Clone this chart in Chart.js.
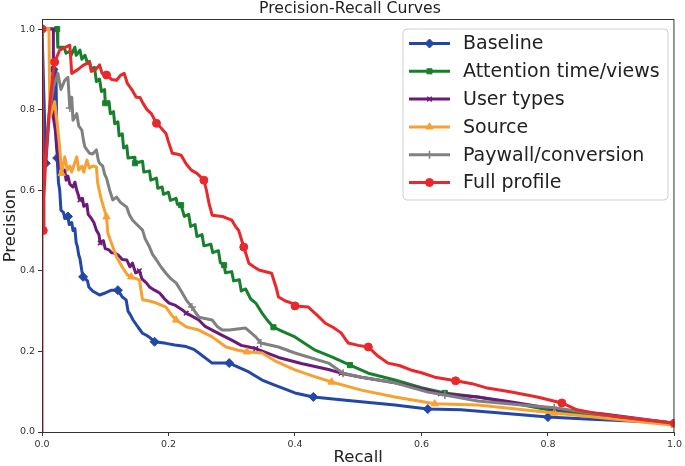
<!DOCTYPE html>
<html>
<head>
<meta charset="utf-8">
<script src="https://cdn.jsdelivr.net/npm/chart.js@4/dist/chart.umd.min.js"></script>
<style>
    html, body { margin: 0; padding: 0; background: #fff; }
    #wrap { width: 685px; height: 466px; position: relative; }
</style>
</head>
<body>
<div id="wrap"><canvas id="prChart"></canvas></div>
<script>
// Tick labels
const xTicks = [0, 0.2, 0.4, 0.6, 0.8, 1.0];
const yTicks = [0, 0.2, 0.4, 0.6, 0.8, 1.0];

// Baseline
const baselineRecall = [0, 0.006, 0.012, 0.018, 0.022, 0.024, 0.026, 0.028, 0.03, 0.034, 0.036, 0.041, 0.043, 0.047, 0.049, 0.052, 0.054, 0.056, 0.058, 0.06, 0.063, 0.065, 0.072, 0.074, 0.08, 0.091, 0.1, 0.11, 0.12, 0.127, 0.133, 0.136, 0.14, 0.144, 0.152, 0.159, 0.165, 0.17, 0.178, 0.196, 0.21, 0.228, 0.24, 0.248, 0.269, 0.296, 0.327, 0.348, 0.37, 0.40, 0.429, 0.48, 0.558, 0.61, 0.662, 0.72, 0.80, 0.86, 0.93, 1.0];
const baselinePrecision = [1.0, 0.667, 0.8, 0.9, 0.9, 0.68, 0.62, 0.6, 0.55, 0.545, 0.53, 0.535, 0.515, 0.52, 0.5, 0.505, 0.47, 0.46, 0.44, 0.43, 0.4, 0.385, 0.375, 0.36, 0.35, 0.34, 0.345, 0.352, 0.352, 0.335, 0.328, 0.3, 0.29, 0.278, 0.26, 0.245, 0.24, 0.235, 0.224, 0.22, 0.216, 0.212, 0.205, 0.196, 0.171, 0.171, 0.149, 0.129, 0.115, 0.097, 0.087, 0.079, 0.067, 0.057, 0.055, 0.048, 0.037, 0.032, 0.027, 0.022];
const baselineMarks = [0, 0.006, 0.018, 0.024, 0.041, 0.065, 0.12, 0.178, 0.296, 0.429, 0.61, 0.80];

// Attention time/views
const attentionRecall = [0.012, 0.024, 0.025, 0.035, 0.038, 0.044, 0.046, 0.052, 0.054, 0.06, 0.063, 0.068, 0.072, 0.075, 0.078, 0.083, 0.086, 0.091, 0.094, 0.099, 0.1, 0.106, 0.108, 0.113, 0.115, 0.12, 0.122, 0.127, 0.129, 0.134, 0.136, 0.146, 0.147, 0.159, 0.161, 0.17, 0.172, 0.181, 0.183, 0.19, 0.192, 0.2, 0.203, 0.212, 0.214, 0.22, 0.225, 0.232, 0.235, 0.242, 0.245, 0.253, 0.256, 0.267, 0.27, 0.279, 0.282, 0.288, 0.29, 0.3, 0.303, 0.312, 0.315, 0.322, 0.33, 0.338, 0.348, 0.355, 0.366, 0.38, 0.40, 0.415, 0.432, 0.46, 0.487, 0.516, 0.558, 0.60, 0.637, 0.689, 0.75, 0.80, 0.87, 0.94, 1.0];
const attentionPrecision = [1.0, 1.0, 0.955, 0.955, 0.94, 0.945, 0.935, 0.955, 0.935, 0.948, 0.925, 0.935, 0.915, 0.92, 0.9, 0.905, 0.87, 0.876, 0.845, 0.85, 0.816, 0.82, 0.79, 0.795, 0.765, 0.77, 0.735, 0.74, 0.705, 0.71, 0.68, 0.682, 0.667, 0.672, 0.645, 0.648, 0.625, 0.63, 0.605, 0.608, 0.59, 0.595, 0.575, 0.58, 0.565, 0.563, 0.535, 0.54, 0.51, 0.515, 0.485, 0.49, 0.462, 0.466, 0.445, 0.45, 0.42, 0.414, 0.395, 0.398, 0.375, 0.378, 0.35, 0.355, 0.33, 0.32, 0.295, 0.28, 0.26, 0.25, 0.236, 0.22, 0.203, 0.185, 0.166, 0.146, 0.129, 0.11, 0.097, 0.087, 0.07, 0.055, 0.042, 0.032, 0.022];
const attentionMarks = [0.024, 0.1, 0.147, 0.22, 0.288, 0.366, 0.487, 0.637, 0.80];

// User types
const userRecall = [0, 0.018, 0.018, 0.021, 0.023, 0.028, 0.033, 0.036, 0.038, 0.041, 0.044, 0.049, 0.052, 0.055, 0.06, 0.064, 0.066, 0.071, 0.073, 0.078, 0.082, 0.086, 0.09, 0.092, 0.097, 0.1, 0.106, 0.11, 0.115, 0.12, 0.127, 0.134, 0.139, 0.143, 0.148, 0.154, 0.158, 0.165, 0.17, 0.178, 0.186, 0.194, 0.201, 0.21, 0.222, 0.228, 0.24, 0.248, 0.258, 0.269, 0.285, 0.30, 0.315, 0.327, 0.338, 0.374, 0.41, 0.453, 0.473, 0.505, 0.558, 0.61, 0.63, 0.689, 0.74, 0.81, 0.888, 1.0];
const userPrecision = [1.0, 1.0, 0.78, 0.75, 0.707, 0.658, 0.642, 0.65, 0.625, 0.635, 0.615, 0.608, 0.62, 0.6, 0.576, 0.58, 0.56, 0.565, 0.54, 0.53, 0.52, 0.501, 0.49, 0.469, 0.475, 0.455, 0.452, 0.445, 0.444, 0.44, 0.428, 0.427, 0.41, 0.419, 0.395, 0.4, 0.38, 0.37, 0.36, 0.352, 0.345, 0.33, 0.32, 0.315, 0.303, 0.295, 0.285, 0.278, 0.262, 0.253, 0.24, 0.228, 0.215, 0.211, 0.207, 0.185, 0.17, 0.155, 0.146, 0.136, 0.122, 0.104, 0.095, 0.087, 0.075, 0.057, 0.045, 0.022];
const userMarks = [0, 0.06, 0.092, 0.154, 0.228, 0.338, 0.473, 0.63, 0.81];

// Source
const sourceRecall = [0, 0.011, 0.0125, 0.02, 0.023, 0.028, 0.031, 0.036, 0.04, 0.044, 0.047, 0.05, 0.055, 0.058, 0.063, 0.066, 0.071, 0.075, 0.08, 0.086, 0.088, 0.094, 0.102, 0.104, 0.112, 0.118, 0.123, 0.127, 0.135, 0.141, 0.15, 0.154, 0.159, 0.17, 0.181, 0.196, 0.205, 0.212, 0.228, 0.248, 0.269, 0.291, 0.31, 0.324, 0.348, 0.37, 0.40, 0.43, 0.458, 0.505, 0.558, 0.621, 0.689, 0.731, 0.81, 0.9, 1.0];
const sourcePrecision = [1.0, 1.0, 0.78, 0.82, 0.78, 0.707, 0.642, 0.683, 0.65, 0.66, 0.645, 0.66, 0.683, 0.65, 0.66, 0.645, 0.675, 0.655, 0.66, 0.658, 0.618, 0.576, 0.534, 0.494, 0.459, 0.434, 0.42, 0.409, 0.39, 0.385, 0.38, 0.377, 0.328, 0.325, 0.32, 0.31, 0.29, 0.278, 0.261, 0.253, 0.236, 0.211, 0.203, 0.199, 0.196, 0.175, 0.154, 0.138, 0.124, 0.104, 0.087, 0.07, 0.067, 0.06, 0.047, 0.033, 0.017];
const sourceMarks = [0, 0.031, 0.102, 0.141, 0.212, 0.324, 0.458, 0.621, 0.81, 1.0];

// Paywall/conversion
const paywallRecall = [0.0125, 0.018, 0.025, 0.03, 0.036, 0.041, 0.044, 0.047, 0.049, 0.055, 0.058, 0.063, 0.066, 0.068, 0.075, 0.08, 0.086, 0.089, 0.091, 0.096, 0.099, 0.102, 0.107, 0.112, 0.118, 0.124, 0.134, 0.138, 0.143, 0.15, 0.159, 0.163, 0.17, 0.175, 0.181, 0.188, 0.196, 0.204, 0.212, 0.22, 0.228, 0.237, 0.248, 0.269, 0.277, 0.285, 0.296, 0.322, 0.338, 0.346, 0.374, 0.40, 0.453, 0.476, 0.505, 0.558, 0.61, 0.637, 0.689, 0.75, 0.81, 0.888, 1.0];
const paywallPrecision = [0.8, 0.856, 0.89, 0.85, 0.873, 0.88, 0.804, 0.831, 0.774, 0.79, 0.76, 0.749, 0.72, 0.707, 0.692, 0.69, 0.70, 0.675, 0.667, 0.66, 0.64, 0.63, 0.6, 0.576, 0.583, 0.57, 0.558, 0.54, 0.526, 0.515, 0.501, 0.48, 0.459, 0.44, 0.427, 0.41, 0.394, 0.38, 0.37, 0.35, 0.328, 0.31, 0.285, 0.278, 0.262, 0.253, 0.253, 0.258, 0.236, 0.221, 0.211, 0.196, 0.171, 0.146, 0.136, 0.122, 0.099, 0.092, 0.077, 0.068, 0.06, 0.042, 0.022];
const paywallMarks = [0.044, 0.237, 0.346, 0.476, 0.637, 0.81];

// Full profile
const fullRecall = [0, 0, 0.002, 0.003, 0.006, 0.01, 0.014, 0.02, 0.028, 0.044, 0.047, 0.057, 0.065, 0.075, 0.078, 0.085, 0.091, 0.095, 0.102, 0.11, 0.118, 0.124, 0.13, 0.135, 0.142, 0.149, 0.155, 0.16, 0.166, 0.173, 0.181, 0.188, 0.196, 0.2, 0.206, 0.213, 0.22, 0.228, 0.236, 0.245, 0.256, 0.26, 0.264, 0.269, 0.285, 0.30, 0.306, 0.311, 0.319, 0.323, 0.327, 0.335, 0.343, 0.363, 0.37, 0.374, 0.385, 0.395, 0.40, 0.421, 0.435, 0.448, 0.46, 0.473, 0.48, 0.484, 0.5, 0.516, 0.53, 0.547, 0.565, 0.583, 0.6, 0.621, 0.654, 0.68, 0.704, 0.74, 0.783, 0.822, 0.846, 0.88, 0.914, 1.0];
const fullPrecision = [0, 1.0, 0.5, 0.58, 0.68, 0.77, 0.84, 0.918, 0.948, 0.96, 0.89, 0.9, 0.91, 0.918, 0.895, 0.9, 0.911, 0.89, 0.886, 0.875, 0.873, 0.885, 0.89, 0.865, 0.85, 0.831, 0.83, 0.815, 0.8, 0.79, 0.766, 0.755, 0.741, 0.72, 0.692, 0.69, 0.687, 0.665, 0.65, 0.642, 0.625, 0.6, 0.568, 0.538, 0.535, 0.526, 0.51, 0.5, 0.459, 0.44, 0.419, 0.41, 0.402, 0.394, 0.36, 0.335, 0.325, 0.32, 0.313, 0.31, 0.29, 0.27, 0.26, 0.246, 0.23, 0.221, 0.215, 0.211, 0.19, 0.171, 0.165, 0.154, 0.147, 0.136, 0.127, 0.12, 0.109, 0.1, 0.087, 0.072, 0.055, 0.045, 0.037, 0.022];
const fullMarks = [0.002, 0.02, 0.102, 0.181, 0.256, 0.319, 0.40, 0.516, 0.654, 0.822, 1.0];

const seriesNames = ['Baseline', 'Attention time/views', 'User types', 'Source', 'Paywall/conversion', 'Full profile'];
const seriesColors = ['#2347a8', '#18802c', '#6b1a7b', '#f6a132', '#808080', '#e8282b'];
const seriesMarkers = ['rectRot', 'rect', 'crossRot', 'triangle', 'cross', 'circle'];
const markerSizes = [4.5, 3.6, 3.2, 4.2, 4, 4];

const FONT = 'DejaVu Sans, Liberation Sans, sans-serif';

// Build a dataset; markers sit on the first point at each listed recall value
function makeDataset(i, recall, precision, marks) {
    const markIdx = new Set(marks.map(m => recall.indexOf(m)));
    if (i === 5) markIdx.add(1); // full profile marker at (0, 1)
    const open = seriesMarkers[i] === 'cross' || seriesMarkers[i] === 'crossRot';
    return {
        label: seriesNames[i],
        data: recall.map((r, k) => ({ x: r, y: precision[k] })),
        borderColor: seriesColors[i],
        backgroundColor: seriesColors[i],
        borderWidth: 3,
        borderJoinStyle: 'round',
        pointStyle: seriesMarkers[i],
        pointRadius: ctx => markIdx.has(ctx.dataIndex) ? markerSizes[i] : 0,
        pointHoverRadius: 0,
        pointBackgroundColor: seriesColors[i],
        pointBorderColor: seriesColors[i],
        pointBorderWidth: open ? 1.5 : 1,
        showLine: true,
        fill: false,
        tension: 0,
        order: 5 - i
    };
}

// Title, frame and legend box drawn on the canvas
const decorPlugin = {
    id: 'decor',
    afterDraw(chart) {
        const { ctx, chartArea } = chart;
        ctx.save();
        // frame
        ctx.strokeStyle = '#333';
        ctx.lineWidth = 1;
        ctx.strokeRect(chartArea.left + 0.5, chartArea.top + 0.5, chartArea.right - chartArea.left - 1, chartArea.bottom - chartArea.top);

        // title
        ctx.fillStyle = '#222';
        ctx.font = '15.7px ' + FONT;
        ctx.textAlign = 'center';
        ctx.textBaseline = 'middle';
        ctx.fillText('Precision-Recall Curves', 350, 9);

        // legend
        const bx = 403, by = 29, bw = 265, bh = 171, r = 4;
        ctx.beginPath();
        ctx.moveTo(bx + r, by);
        ctx.arcTo(bx + bw, by, bx + bw, by + bh, r);
        ctx.arcTo(bx + bw, by + bh, bx, by + bh, r);
        ctx.arcTo(bx, by + bh, bx, by, r);
        ctx.arcTo(bx, by, bx + bw, by, r);
        ctx.closePath();
        ctx.fillStyle = 'rgba(255,255,255,0.85)';
        ctx.fill();
        ctx.strokeStyle = '#d0d0d0';
        ctx.stroke();

        ctx.font = '19px ' + FONT;
        ctx.textAlign = 'left';
        seriesNames.forEach((name, i) => {
            const y = 43.5 + i * 27.8;
            ctx.strokeStyle = seriesColors[i];
            ctx.lineWidth = 3;
            ctx.beginPath();
            ctx.moveTo(409, y);
            ctx.lineTo(450, y);
            ctx.stroke();
            ctx.fillStyle = seriesColors[i];
            ctx.lineWidth = seriesMarkers[i].startsWith('cross') ? 1.5 : 1;
            Chart.helpers.drawPoint(ctx, { pointStyle: seriesMarkers[i], radius: markerSizes[i], borderWidth: ctx.lineWidth }, 429.5, y);
            ctx.fillStyle = '#222';
            ctx.fillText(name, 463, y + 1);
        });
        ctx.restore();
    }
};

const ctx = document.getElementById('prChart').getContext('2d');
const prChart = new Chart(ctx, {
    type: 'scatter',
    data: {
        datasets: [
            makeDataset(0, baselineRecall, baselinePrecision, baselineMarks),
            makeDataset(1, attentionRecall, attentionPrecision, attentionMarks),
            makeDataset(2, userRecall, userPrecision, userMarks),
            makeDataset(3, sourceRecall, sourcePrecision, sourceMarks),
            makeDataset(4, paywallRecall, paywallPrecision, paywallMarks),
            makeDataset(5, fullRecall, fullPrecision, fullMarks)
        ]
    },
    options: {
        responsive: true,
        maintainAspectRatio: false,
        animation: false,
        devicePixelRatio: 1,
        layout: { padding: { top: 19, right: 7, left: 0, bottom: 0 } },
        plugins: {
            legend: { display: false },
            title: { display: false },
            tooltip: { enabled: false }
        },
        scales: {
            x: {
                type: 'linear',
                min: 0,
                max: 1.0,
                afterFit: scale => { scale.height = 34; },
                afterBuildTicks: scale => { scale.ticks = xTicks.map(v => ({ value: v })); },
                ticks: {
                    font: { family: FONT, size: 9.5 },
                    color: '#333',
                    padding: 3,
                    maxRotation: 0,
                    callback: v => v.toFixed(1)
                },
                grid: { drawOnChartArea: false, drawTicks: true, tickLength: 4, color: '#333' },
                border: { display: false },
                title: {
                    display: true,
                    text: 'Recall',
                    color: '#222',
                    font: { family: FONT, size: 16.5, lineHeight: 1 },
                    padding: { top: 0, bottom: 0 }
                }
            },
            y: {
                type: 'linear',
                min: 0,
                max: 1.025,
                afterFit: scale => { scale.width = 42; },
                afterBuildTicks: scale => { scale.ticks = yTicks.map(v => ({ value: v })); },
                ticks: {
                    font: { family: FONT, size: 9.5 },
                    color: '#333',
                    padding: 3,
                    callback: v => v.toFixed(1)
                },
                grid: { drawOnChartArea: false, drawTicks: true, tickLength: 4, color: '#333' },
                border: { display: false },
                title: {
                    display: true,
                    text: 'Precision',
                    color: '#222',
                    font: { family: FONT, size: 16.5, lineHeight: 1 },
                    padding: { top: 2, bottom: 0 }
                }
            }
        }
    },
    plugins: [decorPlugin]
});
</script>
</body>
</html>
